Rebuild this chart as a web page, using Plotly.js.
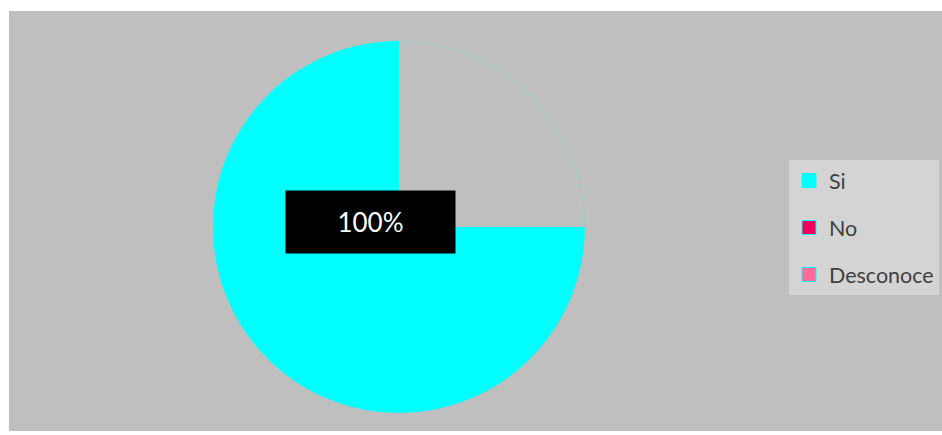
<!DOCTYPE html>
<html>
<head>
<meta charset="utf-8">
<script src="https://cdn.plot.ly/plotly-3.0.1.min.js"></script>
<style>html,body{margin:0;padding:0;background:#fff;}#chart{width:942px;height:435px;}</style>
</head>
<body>
<div id="chart"></div>
<script>
// Data
const categories = ['Si', 'No', 'Desconoce'];
const values = [100, 0, 0];
const sliceColors = ['#00ffff', '#f0005c', '#ff6b99'];
// Part of the disc that appears unfilled (grey quarter) in the reference
const unfilledShare = [25, 75];

const total = values.reduce((a, b) => a + b, 0);
const siPct = Math.round(values[0] / total * 100) + '%';

const bg = '#bfbfbf';
const pieDomain = {x: [0.2186, 0.6174], y: [0.0429, 0.9286]};

const traces = [
  {
    type: 'pie',
    labels: categories,
    values: values,
    marker: {colors: sliceColors, line: {width: 0}},
    sort: false,
    direction: 'clockwise',
    textinfo: 'none',
    showlegend: false,
    domain: pieDomain,
    hoverinfo: 'label+percent'
  },
  {
    type: 'pie',
    labels: ['unfilled', 'rest'],
    values: unfilledShare,
    marker: {colors: [bg, 'rgba(0,0,0,0)'], line: {width: 0}},
    sort: false,
    direction: 'clockwise',
    textinfo: 'none',
    showlegend: false,
    domain: pieDomain,
    hoverinfo: 'skip'
  }
];

categories.forEach((c, i) => {
  traces.push({
    type: 'scatter',
    mode: 'markers',
    x: [null], y: [null],
    name: c,
    legendgroup: c,
    marker: {symbol: 'square', size: 14, color: sliceColors[i], line: {color: '#00ffff', width: 1}},
    hoverinfo: 'skip'
  });
});

const layout = {
  width: 942, height: 435,
  margin: {l: 9, r: 0, t: 11, b: 4},
  paper_bgcolor: '#ffffff',
  plot_bgcolor: bg,
  font: {family: 'Lato, sans-serif', color: '#404040'},
  xaxis: {visible: false},
  yaxis: {visible: false},
  showlegend: true,
  legend: {
    x: 0.836, y: 0.645, xanchor: 'left', yanchor: 'top',
    bgcolor: '#d4d4d4',
    font: {size: 21.5, color: '#404040', family: 'Lato, sans-serif'},
    traceorder: 'grouped',
    tracegroupgap: 16,
    itemclick: false
  },
  annotations: [{
    xref: 'paper', yref: 'paper',
    x: 0.3875, y: 0.4976,
    text: siPct,
    showarrow: false,
    bgcolor: '#000000',
    width: 169, height: 62,
    borderpad: 0,
    font: {family: 'Lato, sans-serif', size: 26, color: '#ffffff'}
  }]
};

Plotly.newPlot('chart', traces, layout, {displayModeBar: false, staticPlot: true});
</script>
</body>
</html>
